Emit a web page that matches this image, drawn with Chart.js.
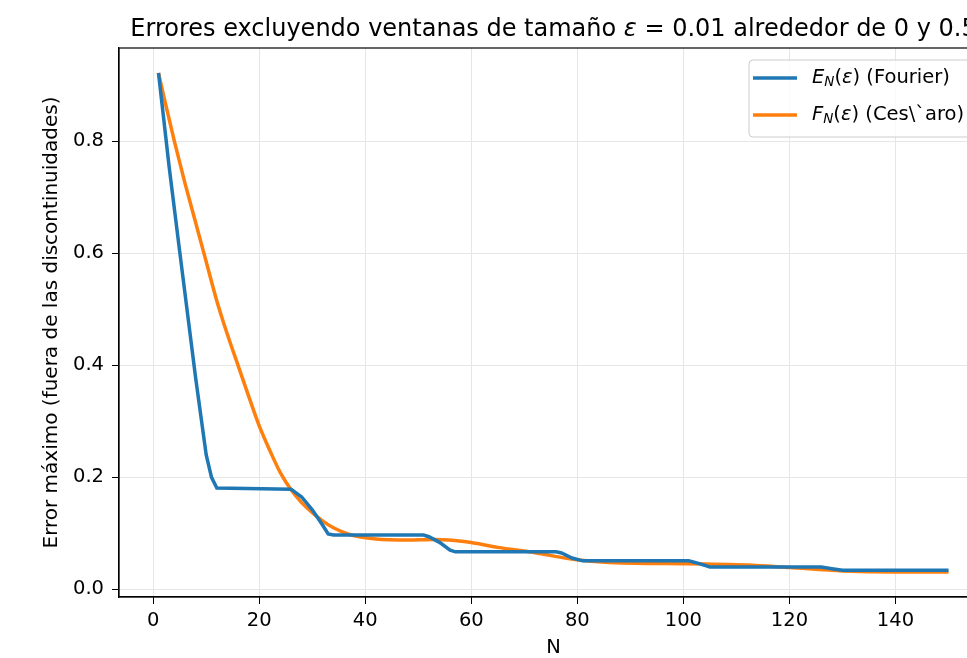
<!DOCTYPE html>
<html>
<head>
<meta charset="utf-8">
<script src="https://cdn.jsdelivr.net/npm/chart.js@4"></script>
<style>
  html, body { margin: 0; padding: 0; overflow: hidden; background: #fff; }
</style>
</head>
<body>
<canvas id="errChart" width="1000" height="658"></canvas>
<script>
// E_N(eps): Fourier partial sums
const fourierN   = [1, 3, 5, 8, 10, 11, 12, 26, 28, 30, 32, 33, 34, 51, 52, 54, 56, 57, 76, 77, 79, 81, 101, 103, 105, 126, 128, 130, 150];
const fourierErr = [0.922, 0.755, 0.603, 0.378, 0.24, 0.20, 0.181, 0.179, 0.165, 0.142, 0.114, 0.099, 0.097, 0.097, 0.094, 0.084, 0.070, 0.067, 0.067, 0.065, 0.056, 0.051, 0.051, 0.046, 0.040, 0.040, 0.037, 0.034, 0.034];

// F_N(eps): Cesaro means
const cesaroN   = [1, 2, 4, 6, 8, 10, 12, 14, 16, 18, 20, 22, 24, 26, 28, 30, 32, 34, 37, 42, 48, 53, 59, 65, 72, 78, 82, 91, 100, 112, 120, 130, 140, 150];
const cesaroErr = [0.922, 0.88, 0.80, 0.725, 0.655, 0.585, 0.515, 0.455, 0.40, 0.345, 0.292, 0.248, 0.208, 0.178, 0.155, 0.137, 0.122, 0.110, 0.098, 0.090, 0.088, 0.089, 0.085, 0.075, 0.0655, 0.0555, 0.0506, 0.0465, 0.0458, 0.0435, 0.039, 0.033, 0.031, 0.031];

const xTicks = [0, 20, 40, 60, 80, 100, 120, 140];
const yTicks = [0.0, 0.2, 0.4, 0.6, 0.8];

const FONT = "DejaVu Sans";
const BLUE = "#1f77b4";
const ORANGE = "#ff7f0e";

// pieces of mixed upright / italic text, drawn left to right
function drawPieces(ctx, pieces, x, y) {
  pieces.forEach(p => {
    ctx.font = p.font;
    ctx.fillText(p.t, x, y + (p.dy || 0));
    x += ctx.measureText(p.t).width;
  });
  return x;
}
function piecesWidth(ctx, pieces) {
  let w = 0;
  pieces.forEach(p => { ctx.font = p.font; w += ctx.measureText(p.t).width; });
  return w;
}

const titleFont = "24px " + FONT;
const titleItal = "italic 24px " + FONT;
const titlePieces = [
  { t: "Errores excluyendo ventanas de tamaño ", font: titleFont },
  { t: "ε", font: titleItal },
  { t: " = 0.01 alrededor de 0 y 0.5", font: titleFont }
];

const legFont = "19.5px " + FONT;
const legItal = "italic 19.5px " + FONT;
const legSub = "italic 13.5px " + FONT;
const legendRows = [
  { color: BLUE, pieces: [
    { t: "E", font: legItal }, { t: "N", font: legSub, dy: 4 }, { t: "(", font: legFont },
    { t: "ε", font: legItal }, { t: ") (Fourier)", font: legFont }] },
  { color: ORANGE, pieces: [
    { t: "F", font: legItal }, { t: "N", font: legSub, dy: 4 }, { t: "(", font: legFont },
    { t: "ε", font: legItal }, { t: ") (Ces\\`aro)", font: legFont }] }
];

// matplotlib-like frame, title and legend
const mplPlugin = {
  id: "mplDecor",
  afterDraw(chart) {
    const ctx = chart.ctx;
    const a = chart.chartArea;
    ctx.save();
    ctx.strokeStyle = "#000";
    ctx.lineWidth = 1.2;
    ctx.strokeRect(a.left, a.top, a.right - a.left, a.bottom - a.top);

    // title
    ctx.fillStyle = "#000";
    ctx.textBaseline = "middle";
    const tw = piecesWidth(ctx, titlePieces);
    drawPieces(ctx, titlePieces, (a.left + a.right) / 2 - tw / 2, 30);

    // legend box
    const bx = 749, by = 60, bw = 231, bh = 77, r = 4;
    ctx.beginPath();
    ctx.moveTo(bx + r, by);
    ctx.arcTo(bx + bw, by, bx + bw, by + bh, r);
    ctx.arcTo(bx + bw, by + bh, bx, by + bh, r);
    ctx.arcTo(bx, by + bh, bx, by, r);
    ctx.arcTo(bx, by, bx + bw, by, r);
    ctx.closePath();
    ctx.fillStyle = "rgba(255,255,255,0.8)";
    ctx.fill();
    ctx.strokeStyle = "#cccccc";
    ctx.lineWidth = 1;
    ctx.stroke();

    legendRows.forEach((row, i) => {
      const y = 78 + i * 37;
      ctx.beginPath();
      ctx.moveTo(753, y);
      ctx.lineTo(797, y);
      ctx.strokeStyle = row.color;
      ctx.lineWidth = 3.5;
      ctx.stroke();
      ctx.fillStyle = "#000";
      drawPieces(ctx, row.pieces, 812, y);
    });
    ctx.restore();
  }
};

new Chart(document.getElementById("errChart"), {
  type: "line",
  data: {
    datasets: [
      {
        label: "E_N(ε) (Fourier)",
        data: fourierN.map((n, i) => ({ x: n, y: fourierErr[i] })),
        borderColor: BLUE,
        borderWidth: 3.5,
        pointRadius: 0,
        tension: 0
      },
      {
        label: "F_N(ε) (Cesàro)",
        data: cesaroN.map((n, i) => ({ x: n, y: cesaroErr[i] })),
        borderColor: ORANGE,
        borderWidth: 3.5,
        pointRadius: 0,
        cubicInterpolationMode: "monotone"
      }
    ]
  },
  options: {
    responsive: false,
    animation: false,
    layout: { padding: { top: 48, right: 12, left: 0, bottom: 0 } },
    plugins: {
      legend: { display: false },
      title: { display: false },
      tooltip: { enabled: false }
    },
    scales: {
      x: {
        type: "linear",
        min: -6.45,
        max: 157.45,
        afterBuildTicks: s => { s.ticks = xTicks.map(v => ({ value: v })); },
        afterFit: s => { s.height = 61; },
        ticks: { color: "#000", font: { family: FONT, size: 19.5 }, padding: 5, maxRotation: 0 },
        grid: { color: "#e6e6e6", lineWidth: 1, tickColor: "#000", tickLength: 7 },
        border: { color: "#000", width: 1.2 },
        title: { display: true, text: "N", color: "#000", font: { family: FONT, size: 19.5, lineHeight: 1 }, padding: { top: 0, bottom: 0 } }
      },
      y: {
        type: "linear",
        min: -0.0136,
        max: 0.9666,
        afterBuildTicks: s => { s.ticks = yTicks.map(v => ({ value: v })); },
        afterFit: s => { s.width = 119; },
        ticks: { color: "#000", font: { family: FONT, size: 19.5 }, padding: 8, callback: v => v.toFixed(1) },
        grid: { color: "#e6e6e6", lineWidth: 1, tickColor: "#000", tickLength: 7 },
        border: { color: "#000", width: 1.2 },
        title: { display: true, text: "Error máximo (fuera de las discontinuidades)", color: "#000", font: { family: FONT, size: 20, lineHeight: 1 }, padding: { top: 42, bottom: 0 } }
      }
    }
  },
  plugins: [mplPlugin]
});
</script>
</body>
</html>
